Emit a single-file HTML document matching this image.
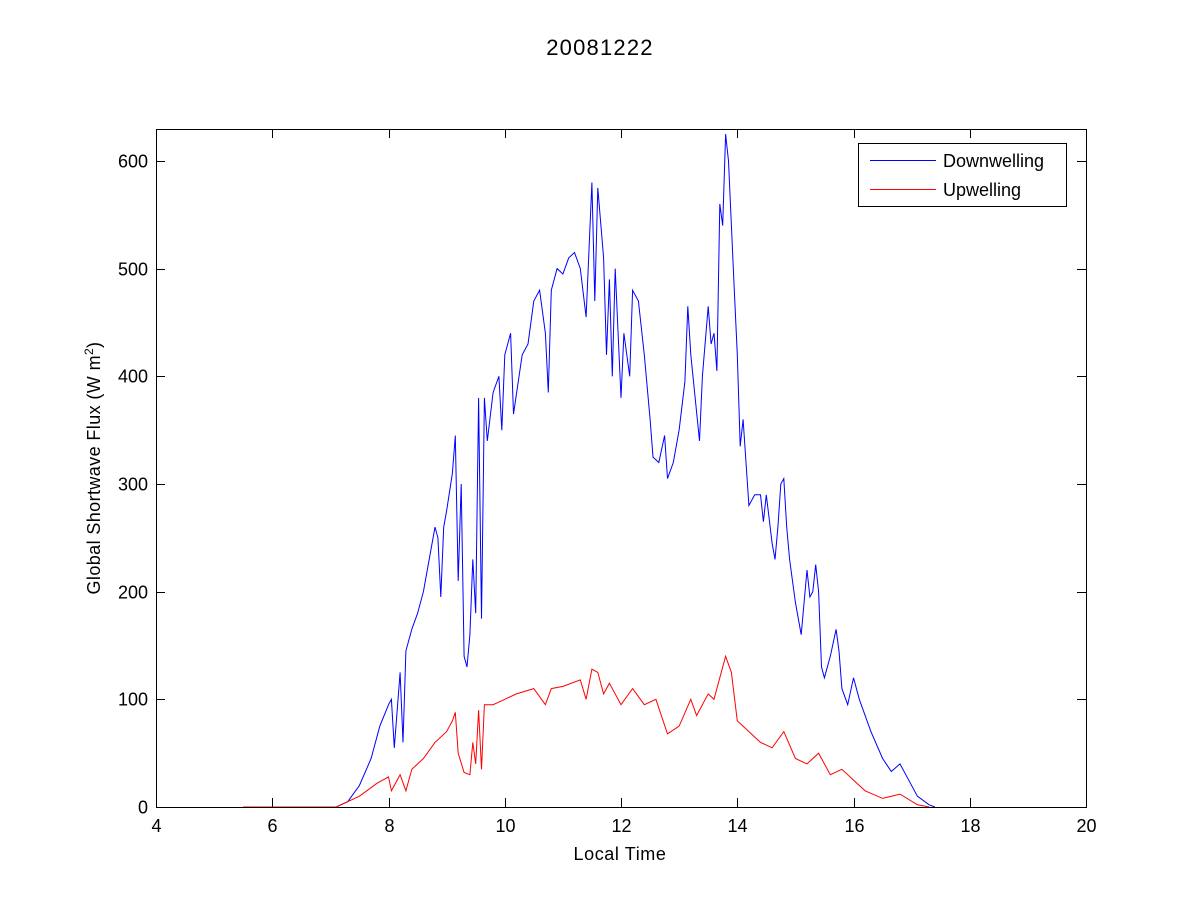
<!DOCTYPE html>
<html><head><meta charset="utf-8"><style>
html,body{margin:0;padding:0;background:#fff;}
svg text{font-family:"Liberation Sans",Arial,sans-serif;font-size:18px;fill:#000;}
</style></head><body>
<svg id="s" width="1200" height="900" xmlns="http://www.w3.org/2000/svg">
<rect width="1200" height="900" fill="#fff"/>
<text x="600" y="55" text-anchor="middle" style="font-size:22px;letter-spacing:1.2px">20081222</text>
<g id="ax"></g>
<polyline id="dw" fill="none" stroke="#0000ff" stroke-width="1"/>
<polyline id="uw" fill="none" stroke="#ff0000" stroke-width="1"/>
<rect x="156.5" y="129.5" width="930" height="678" fill="none" stroke="#000" stroke-width="1"/>
<rect x="858.5" y="143.5" width="208" height="63" fill="#fff" stroke="#000" stroke-width="1"/>
<line x1="870" y1="160.5" x2="936" y2="160.5" stroke="#0000ff"/>
<line x1="870" y1="189.5" x2="936" y2="189.5" stroke="#ff0000"/>
<text x="943" y="167">Downwelling</text>
<text x="943" y="196">Upwelling</text>
<text x="620" y="860" text-anchor="middle" style="letter-spacing:0.6px">Local Time</text>
<text transform="translate(100,468) rotate(-90)" text-anchor="middle" style="letter-spacing:0.4px">Global Shortwave Flux (W m<tspan dy="-7" font-size="12">2</tspan><tspan dy="7">)</tspan></text>
</svg>
<script>
var X=function(t){return 156+(t-4)*58.125},Y=function(v){return 807-v*1.0767};
var ax=document.getElementById('ax'),h='';
for(var t=4;t<=20;t+=2){var x=Math.round(X(t))+0.5;h+='<line x1="'+x+'" y1="807" x2="'+x+'" y2="798" stroke="#000"/><line x1="'+x+'" y1="129" x2="'+x+'" y2="138" stroke="#000"/><text x="'+x+'" y="832" text-anchor="middle">'+t+'</text>';}
for(var v=0;v<=600;v+=100){var y=Math.round(Y(v))+0.5;h+='<line x1="156" y1="'+y+'" x2="165" y2="'+y+'" stroke="#000"/><line x1="1086" y1="'+y+'" x2="1077" y2="'+y+'" stroke="#000"/><text x="148" y="'+(y+6)+'" text-anchor="end">'+v+'</text>';}
ax.innerHTML=h;
var d=[5.5,0,7.1,0,7.3,5,7.5,20,7.7,45,7.85,75,8.0,95,8.05,100,8.1,55,8.2,125,8.25,60,8.3,145,8.4,165,8.5,180,8.6,200,8.7,230,8.8,260,8.85,250,8.9,195,8.95,260,9.0,275,9.1,310,9.15,345,9.2,210,9.25,300,9.3,140,9.35,130,9.4,160,9.45,230,9.5,180,9.55,380,9.6,175,9.65,380,9.7,340,9.8,385,9.9,400,9.95,350,10.0,420,10.1,440,10.15,365,10.3,420,10.4,430,10.5,470,10.6,480,10.7,440,10.75,385,10.8,480,10.9,500,11.0,495,11.1,510,11.2,515,11.3,500,11.4,455,11.5,580,11.55,470,11.6,575,11.7,510,11.75,420,11.8,490,11.85,400,11.9,500,12.0,380,12.05,440,12.15,400,12.2,480,12.3,470,12.4,420,12.5,360,12.55,325,12.65,320,12.75,345,12.8,305,12.9,320,13.0,350,13.1,395,13.15,465,13.2,420,13.35,340,13.4,400,13.5,465,13.55,430,13.6,440,13.65,405,13.7,560,13.75,540,13.8,625,13.85,600,13.95,480,14.0,420,14.05,335,14.1,360,14.2,280,14.3,290,14.4,290,14.45,265,14.5,290,14.6,245,14.65,230,14.7,260,14.75,300,14.8,305,14.85,260,14.9,230,15.0,190,15.1,160,15.2,220,15.25,195,15.3,200,15.35,225,15.4,200,15.45,130,15.5,120,15.6,140,15.7,165,15.75,145,15.8,110,15.9,95,16.0,120,16.1,100,16.3,70,16.5,45,16.65,33,16.8,40,16.9,30,17.1,10,17.3,2,17.4,0];
var u=[5.5,0,7.1,0,7.5,10,7.8,22,8.0,28,8.05,15,8.2,30,8.3,15,8.4,35,8.6,45,8.8,60,9.0,70,9.1,80,9.15,88,9.2,50,9.3,32,9.4,30,9.45,60,9.5,40,9.55,90,9.6,35,9.65,95,9.8,95,10.0,100,10.2,105,10.5,110,10.7,95,10.8,110,11.0,112,11.3,118,11.4,100,11.5,128,11.6,125,11.7,105,11.8,115,12.0,95,12.2,110,12.4,95,12.6,100,12.8,68,13.0,75,13.2,100,13.3,85,13.5,105,13.6,100,13.8,140,13.9,125,14.0,80,14.2,70,14.4,60,14.6,55,14.8,70,15.0,45,15.2,40,15.4,50,15.6,30,15.8,35,16.0,25,16.2,15,16.5,8,16.8,12,17.1,2,17.3,0];
function P(a){var s=[];for(var i=0;i<a.length;i+=2)s.push(X(a[i]).toFixed(1)+','+Y(a[i+1]).toFixed(1));return s.join(' ');}
document.getElementById('dw').setAttribute('points',P(d));
document.getElementById('uw').setAttribute('points',P(u));
</script>
</body></html>
